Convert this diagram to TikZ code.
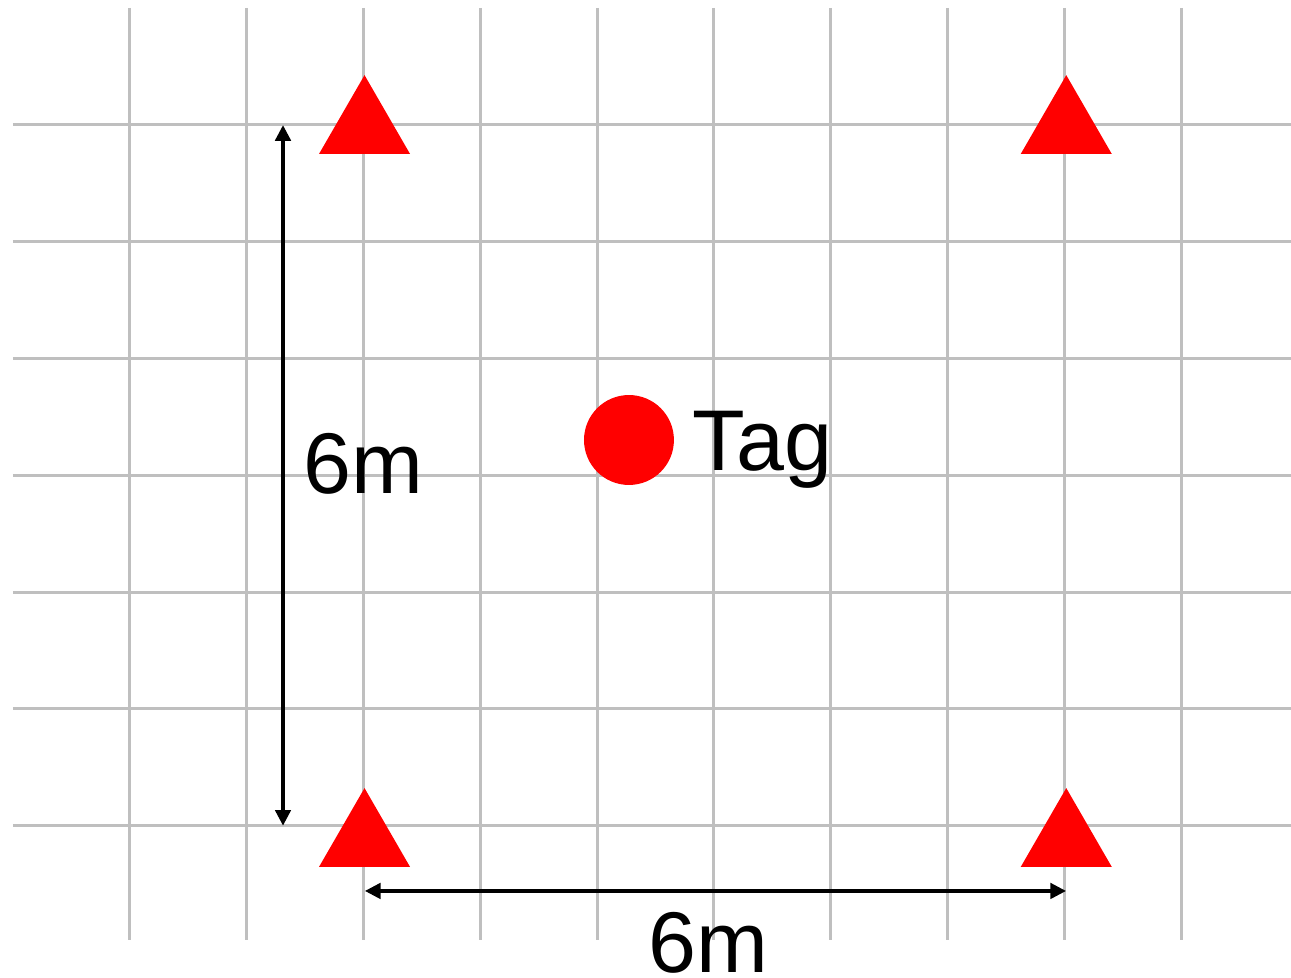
\documentclass[tikz,border=0pt]{standalone}
\usepackage{fontspec}
\setmainfont{Liberation Sans}
\usetikzlibrary{shapes.geometric,arrows.meta}
\begin{document}
\begin{tikzpicture}[x={(1cm,0cm)},y={(0cm,-1cm)},every node/.style={inner sep=0pt, outer sep=0pt},
beacon/.style={regular polygon, regular polygon sides=3, minimum size=0.9cm, fill=red},
dimtext/.style={font=\fontsize{21}{25}\selectfont, anchor=base west},
dimline/.style={{Triangle[length=0.135cm,width=0.13cm]}-{Triangle[length=0.135cm,width=0.13cm]}, line width=1pt}]
\useasboundingbox (-1.113,-1.0702) rectangle (9.9401,7.3031);
\foreach \i in {0,...,9} {
\draw[color=black!25,line width=0.73pt] (\i,-1.002) -- (\i,6.978);
}
\foreach \j in {0,...,6} {
\draw[color=black!25,line width=0.73pt] (-1.002,\j) -- (9.94,\j);
}
\node[beacon] (b1) at (2.008,0.023) {};
\node[beacon] (b2) at (8.016,0.023) {};
\node[beacon] (b3) at (2.008,6.127) {};
\node[beacon] (b4) at (8.016,6.127) {};
\node[circle, fill=red, minimum size=0.77cm] (tag) at (4.272,2.697) {};
\node[dimtext] (tagtext) at (4.82,2.962) {Tag};
\coordinate (vtop) at (1.31,0);
\coordinate (vbot) at (1.31,6.0);
\coordinate (hleft) at (2.01,6.558);
\coordinate (hright) at (8.015,6.558);
\draw[dimline] (vtop) -- (vbot);
\draw[dimline] (hleft) -- (hright);
\node[dimtext] (vlen) at (1.485,3.159) {6m};
\node[dimtext] (hlen) at (4.44,7.26) {6m};
\end{tikzpicture}
\end{document}
